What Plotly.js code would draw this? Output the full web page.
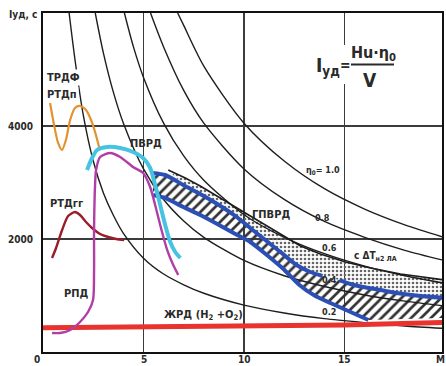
<!DOCTYPE html>
<html><head><meta charset="utf-8">
<script src="https://cdn.plot.ly/plotly-3.0.1.min.js"></script>
<style>html,body{margin:0;padding:0;background:#fff}#c{width:446px;height:366px}</style>
</head><body><div id="c"></div>
<script>
// ---- data ----
const xTickVals = [0, 5, 10, 15, 19.85];
const xTickText = ['0', '5', '10', '15', 'M'];
const yTickVals = [2000, 4000];
const yTickText = ['2000', '4000'];

// eta0 = const curves
const eta02M = [1.3,1.6,2.0,2.5,3.0,3.5,4.0,5.0,6.0,7.0,8.0,10,12,14,16,18,19.85];
const eta02I = [6000,5150,4200,3380,2820,2420,2100,1660,1380,1190,1040,830,690,590,520,460,420];
const eta04M = [2.6,3,3.5,4,5,6,7,8,10,12,14,16,18,19.85];
const eta04I = [6000,5300,4600,4050,3240,2700,2320,2030,1620,1350,1160,1010,900,820];
const eta06M = [4.05,4.5,5,6,7,8,10,12,14,16,18,19.85];
const eta06I = [6000,5400,4860,4050,3470,3040,2430,2030,1740,1520,1350,1225];
const eta08M = [5.35,6,7,8,10,12,14,16,18,19.85];
const eta08I = [6000,5400,4630,4050,3240,2700,2310,2030,1800,1630];
const eta10M = [6.7,7,8,10,12,14,16,18,19.85];
const eta10I = [6000,5780,5060,4050,3380,2890,2530,2250,2040];

// engines
const trdfM = [0.35,0.55,0.75,0.95,1.14,1.35,1.59,1.84,2.14,2.39,2.59,2.79];
const trdfI = [4407,4018,3700,3576,3752,4106,4319,4354,4283,4106,3894,3628];
const rtdggM = [0.45,0.65,0.95,1.25,1.59,1.84,2.14,2.44,2.84,3.24,3.64,4.04];
const rtdggI = [1664,1841,2159,2407,2478,2425,2301,2195,2089,2035,2000,1982];
const rpdM = [0.45,0.85,1.35,1.84,2.24,2.49,2.54,2.54,2.59,2.64,2.84,3.34,3.84,4.48,4.98,5.33,5.58,5.83,6.18,6.48,6.73];
const rpdI = [336,336,389,531,708,920,1451,2159,2956,3221,3452,3522,3452,3274,3168,2921,2602,2248,1805,1540,1363];
const pvrdM = [2.19,2.44,2.69,3.19,3.84,4.48,4.98,5.33,5.58,5.83,6.08,6.33,6.58,6.83];
const pvrdI = [3221,3434,3575,3629,3611,3540,3434,3257,2956,2602,2248,1947,1770,1664];
const zhrdM = [0, 5, 10, 15, 19.85];
const zhrdI = [430, 440, 450, 480, 520];

// ГПВРД boundaries
const gpUpM = [5.43,6.08,6.98,7.82,8.67,9.57,10.31,11.06,11.81,12.61,13.30,13.90];
const gpUpI = [3168,3133,2956,2797,2620,2407,2195,1982,1770,1540,1416,1345];
const gpUp2M = [14.75,15.30,15.94,16.79,17.59,18.78,19.85];
const gpUp2I = [1274,1204,1150,1097,1044,991,960];
const gpLowM = [5.48,6.08,6.98,7.82,8.67,9.57,10.31,11.06,11.96,12.71,13.55,14.30,15.30,16.19];
const gpLowI = [2779,2726,2566,2425,2266,2089,1947,1740,1470,1200,991,867,708,566];
const hatchBottomM = [19.85, 16.19];
const hatchBottomI = [600, 566];
const envM = [6.23,7.08,7.82,8.82,9.82,10.81,11.81,12.81,13.80,15.05,16.29,17.79,19.85];
const envI = [3221,3080,2938,2726,2513,2301,2089,1876,1735,1593,1487,1381,1280];

// ---- helpers for layout positions (pixels -> paper) ----
const L = 43, R = 442, T = 13, B = 352;
const px = x => (x - L) / (R - L);
const py = y => (B - y) / (B - T);
const FONT = 'DejaVu Sans Condensed, Liberation Sans Narrow, sans-serif';
const TXT = '#2a2a2a';

const rev = a => a.slice().reverse();
const traces = [];
// hatched region
traces.push({
  x: gpUpM.concat(gpUp2M, hatchBottomM, rev(gpLowM)),
  y: gpUpI.concat(gpUp2I, hatchBottomI, rev(gpLowI)),
  mode: 'lines', line: {width: 0}, fill: 'toself', fillcolor: 'rgba(255,255,255,0)',
  fillpattern: {shape: '/', fgcolor: '#333', bgcolor: 'rgba(255,255,255,0)', size: 7, solidity: 0.38},
  hoverinfo: 'skip', showlegend: false
});
// dotted region
traces.push({
  x: envM.concat(rev(gpUp2M), rev(gpUpM.slice(2))),
  y: envI.concat(rev(gpUp2I), rev(gpUpI.slice(2))),
  mode: 'lines', line: {width: 0}, fill: 'toself', fillcolor: 'rgba(255,255,255,0)',
  fillpattern: {shape: '.', fgcolor: '#666', bgcolor: 'rgba(255,255,255,0)', size: 4, solidity: 0.35},
  hoverinfo: 'skip', showlegend: false
});
const blk = (x, y, w, sh) => ({x, y, mode: 'lines', line: {color: '#1e1e1e', width: w || 1.4, shape: sh || 'spline', smoothing: 0.8}, showlegend: false, hoverinfo: 'skip'});
traces.push(blk(eta02M, eta02I), blk(eta04M, eta04I), blk(eta06M, eta06I), blk(eta08M, eta08I), blk(eta10M, eta10I), blk(envM, envI, 1.6, 'linear'));
const col = (x, y, c, w, sh, sm) => ({x, y, mode: 'lines', line: {color: c, width: w, shape: sh || 'spline', smoothing: sm || 0.7}, showlegend: false, hoverinfo: 'skip'});
traces.push(col(zhrdM, zhrdI, '#e8332e', 5, 'linear'));
traces.push(col(gpUpM, gpUpI, '#2b4fb5', 4, 'spline', 0.5));
traces.push(col(gpUp2M, gpUp2I, '#2b4fb5', 4, 'spline', 0.5));
traces.push(col(gpLowM, gpLowI, '#2b4fb5', 4, 'spline', 0.5));
traces.push(col(trdfM, trdfI, '#e5912d', 2.2));
traces.push(col(rtdggM, rtdggI, '#9b1d2c', 2.4));
traces.push(col(rpdM, rpdI, '#b03ea6', 2.4));
traces.push(col(pvrdM, pvrdI, '#46c3e3', 4));

const ann = (text, x, y, size, extra) => Object.assign({
  text, xref: 'paper', yref: 'paper', x: px(x), y: py(y), xanchor: 'center', yanchor: 'middle',
  showarrow: false, font: {family: FONT, size: size, color: TXT, weight: 'bold'}
}, extra || {});

const annotations = [
  ann('Iуд, с', 23, 15, 10),
  ann('ТРДФ', 63, 77, 11, {bgcolor: '#fff'}),
  ann('РТДп', 62, 94, 11, {bgcolor: '#fff'}),
  ann('ПВРД', 146, 143, 11),
  ann('РТДгг', 66, 203, 11),
  ann('РПД', 76, 293, 11),
  ann('ГПВРД', 271, 214, 11),
  ann('с ΔТ<sub>н2 ЛА</sub>', 375, 256, 10),
  ann('ЖРД (H<sub>2</sub> +O<sub>2</sub>)', 203, 315, 11),
  ann('η<sub>0</sub>= 1.0', 323, 170, 9),
  ann('0.8', 322, 218, 9),
  ann('0.6', 329, 248, 9),
  ann('0.4', 329, 280, 9),
  ann('0.2', 329, 312, 9),
  ann('I<sub>уд</sub>', 328, 66, 19),
  ann('=', 345, 65, 14),
  ann('Hu·η<sub>0</sub>', 373, 53, 16),
  ann('V', 370, 80, 19)
];
// x tick labels placed as annotations
xTickVals.forEach((v, i) => {
  const xpix = i === 0 ? 37 : (i === xTickVals.length - 1 ? 440 : L + v / 19.85 * (R - L));
  annotations.push(ann(xTickText[i], xpix, 359, 10));
});

const shapes = [
  {type: 'rect', xref: 'paper', yref: 'paper', x0: px(339), x1: px(351), y0: py(84), y1: py(45), fillcolor: '#fff', line: {width: 0}, layer: 'above'},
  {type: 'line', xref: 'paper', yref: 'paper', x0: px(351), x1: px(394), y0: py(64.5), y1: py(64.5), line: {color: TXT, width: 2}, layer: 'above'}
];

const layout = {
  width: 446, height: 366,
  margin: {l: L, r: 446 - R, t: T, b: 366 - B, pad: 0},
  paper_bgcolor: '#fff', plot_bgcolor: '#fff',
  xaxis: {range: [0, 19.85], tickvals: xTickVals, ticktext: xTickText, showticklabels: false, showgrid: true, gridcolor: '#3c3c3c', gridwidth: 1.3,
    zeroline: false, showline: true, linecolor: '#111', linewidth: 2, mirror: true, ticks: '', fixedrange: true},
  yaxis: {range: [0, 6000], tickvals: yTickVals, ticktext: yTickText, showgrid: true, gridcolor: '#3c3c3c', gridwidth: 1.3,
    zeroline: false, showline: true, linecolor: '#111', linewidth: 2, mirror: true, ticks: '', ticklabelstandoff: 6,
    tickfont: {family: FONT, size: 10, color: TXT, weight: 'bold'}, fixedrange: true},
  annotations, shapes, showlegend: false
};
Plotly.newPlot('c', traces, layout, {displayModeBar: false, staticPlot: true});
</script></body></html>
